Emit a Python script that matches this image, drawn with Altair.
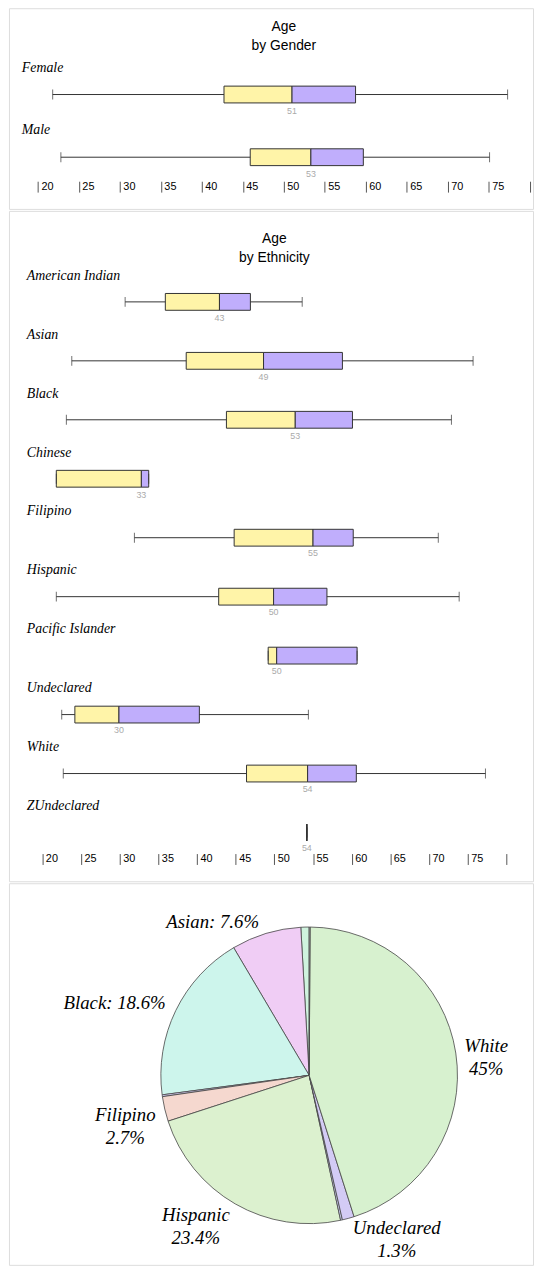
import altair as alt
import pandas as pd

# ---------------- data ----------------
genders = ["Female", "Male"]
g_low = [21.8, 22.8]
g_q1 = [42.7, 45.9]
g_med = [51.0, 53.3]
g_q3 = [58.75, 59.7]
g_high = [77.3, 75.1]

ethnicities = ["American Indian", "Asian", "Black", "Chinese", "Filipino",
               "Hispanic", "Pacific Islander", "Undeclared", "White", "ZUndeclared"]
e_low = [30.7, 23.8, 23.1, 21.8, 31.9, 21.8, 49.2, 22.5, 22.7, 54.2]
e_q1 = [35.9, 38.6, 43.8, 21.8, 44.8, 42.8, 49.2, 24.2, 46.4, 54.2]
e_med = [42.9, 48.6, 52.7, 32.8, 55.0, 49.9, 50.3, 29.9, 54.3, 54.2]
e_q3 = [46.9, 58.8, 60.1, 33.75, 60.2, 56.8, 60.7, 40.3, 60.6, 54.2]
e_high = [53.6, 75.7, 72.9, 33.75, 71.2, 73.9, 60.7, 54.4, 77.3, 54.2]

age_ticks = [20, 25, 30, 35, 40, 45, 50, 55, 60, 65, 70, 75, 80]

pie_share = [0.9, 7.6, 18.6, 0.2, 2.7, 23.4, 0.2, 1.3, 45.0, 0.1]
pie_colors = ["#cff3de", "#f0cdf5", "#cdf5ec", "#d4cdf2", "#f5d8cf",
              "#dcf1cf", "#cfd2f5", "#d3cbf5", "#d7f1cf", "#e0e0e0"]
one_line_labels = ["Asian", "Black"]
two_line_labels = ["Filipino", "Hispanic", "Undeclared", "White"]

# label placement around the pie: (angle nudge in degrees, radius px)
label_place = {
    "White": (2.8, 180), "Undeclared": (-12.8, 188), "Hispanic": (7.0, 191),
    "Filipino": (-2.4, 193), "Black": (-5.5, 210), "Asian": (-15.3, 183),
}

YELLOW = "#fff4a8"
PURPLE = "#c0aefc"
INK = "#333333"
SERIF = "Liberation Serif"
SANS = "Liberation Sans"
W = 530


def box_panel(cats, low, q1, med, q3, high, title_lines, height, x_domain, y_range,
              label_x, label_dy, med_dy, title_y):
    df = pd.DataFrame(dict(cat=cats, low=low, q1=q1, med=med, q3=q3, high=high))
    base = alt.Chart(df)
    xs = alt.Scale(domain=x_domain, nice=False, zero=False)
    ys = alt.Scale(domain=cats, range=y_range)
    x_axis = alt.Axis(values=age_ticks, orient="bottom", offset=-28, domain=False,
                      grid=False, ticks=True, tickSize=11, tickColor="#555",
                      tickWidth=1, labelAlign="left", labelBaseline="middle",
                      labelPadding=-6, labelOffset=3, labelFontSize=11,
                      labelFont="Liberation Sans Narrow, Liberation Sans, Arial",
                      labelColor="#000", labelOverlap=False, labelFlush=False,
                      labelExpr="datum.value >= 80 ? '' : datum.label", title=None)
    y = alt.Y("cat:N", scale=ys, axis=None)
    whisk = base.mark_rule(color=INK, strokeWidth=1).encode(
        x=alt.X("low:Q", scale=xs, axis=x_axis), x2="high:Q", y=y)
    cap_lo = base.mark_tick(color=INK, thickness=1, size=10).encode(
        x=alt.X("low:Q", scale=xs), y=y)
    cap_hi = base.mark_tick(color=INK, thickness=1, size=10).encode(
        x=alt.X("high:Q", scale=xs), y=y)
    lower = base.mark_bar(height=17, color=YELLOW, stroke=INK, strokeWidth=1).encode(
        x=alt.X("q1:Q", scale=xs), x2="med:Q", y=y)
    upper = base.mark_bar(height=17, color=PURPLE, stroke=INK, strokeWidth=1).encode(
        x=alt.X("med:Q", scale=xs), x2="q3:Q", y=y)
    med_txt = base.mark_text(dy=med_dy, fontSize=9, color="#aaaaaa", font=SANS).encode(
        x=alt.X("med:Q", scale=xs), y=y, text=alt.Text("med:Q", format=".0f"))
    cat_txt = base.mark_text(align="left", dy=label_dy, font=SERIF, fontStyle="italic",
                             fontSize=14, color="#000").encode(
        x=alt.value(label_x), y=y, text="cat:N")
    titles = []
    for i, line in enumerate(title_lines):
        titles.append(alt.Chart(pd.DataFrame({"t": [line]})).mark_text(
            font=SANS, fontSize=14, color="#000", baseline="middle").encode(
            x=alt.datum(50, scale=xs), y=alt.value(title_y + 19 * i), text="t:N"))
    return alt.layer(whisk, lower, upper, cap_lo, cap_hi, med_txt, cat_txt, *titles).properties(
        width=W, height=height)


# point scales keep a half-step of outer padding, so the range is widened by it
p1 = box_panel(genders, g_low, g_q1, g_med, g_q3, g_high, ["Age", "by Gender"], 203,
               [16.47, 80.4], [55.6, 182.4], 13, -27, 17, 19)
p2 = box_panel(ethnicities, e_low, e_q1, e_med, e_q3, e_high, ["Age", "by Ethnicity"], 678,
               [15.68, 83.45], [62.2, 658.5], 18, -26.5, 16, 28.3)

# ---------------- pie ----------------
def label_lines(name, v):
    if name in one_line_labels:
        return f"{name}: {v:g}%", ""
    if name in two_line_labels:
        return name, f"{v:g}%"
    return "", ""


lines = [label_lines(n, v) for n, v in zip(ethnicities, pie_share)]
pie_df = pd.DataFrame({"eth": ethnicities, "share": pie_share,
                       "line1": [a for a, b in lines], "line2": [b for a, b in lines]})
theta_scale = alt.Scale(domain=[0, 100])
CX, CY = 303.6, 194.3

arcs = alt.Chart(pie_df).mark_arc(radius=150, stroke="#444", strokeWidth=0.8).encode(
    theta=alt.Theta("share:Q", stack=True, scale=theta_scale),
    color=alt.Color("eth:N", scale=alt.Scale(domain=ethnicities, range=pie_colors), legend=None),
    order=alt.Order("eth:N", sort="descending"),
    x=alt.value(CX), y=alt.value(CY))

label_base = alt.Chart(pie_df).transform_window(
    cum="sum(share)", sort=[alt.SortField("eth", order="descending")], frame=[None, 0]
).transform_calculate(mid="datum.cum - datum.share / 2")

label_layers = []
for name, (nudge, r) in label_place.items():
    two = name in two_line_labels
    fields = [("line1", -11.5), ("line2", 11.5)] if two else [("line1", 0)]
    for field, ddy in fields:
        label_layers.append(
            label_base.transform_filter(alt.datum.eth == name)
            .transform_calculate(ang=f"datum.mid + {nudge / 3.6}")
            .mark_text(radius=r, font=SERIF, fontStyle="italic", fontSize=19, color="#000",
                       align="center", baseline="middle", dy=ddy)
            .encode(theta=alt.Theta("ang:Q", scale=theta_scale), text=f"{field}:N",
                    x=alt.value(CX), y=alt.value(CY)))

p3 = alt.layer(arcs, *label_layers).properties(width=W, height=386)

chart = alt.vconcat(p1, p2, p3, spacing=0).properties(
    padding={"left": 0, "top": -8, "right": 0, "bottom": 0}).configure_view(
    stroke="#8f8f8f", strokeWidth=4).configure(background="white")

chart.save("out.html", embed_options={"renderer": "svg", "actions": False})
